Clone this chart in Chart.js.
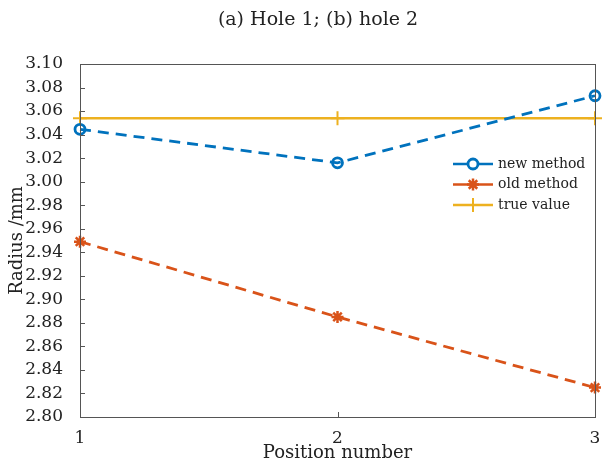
<!DOCTYPE html>
<html>
<head>
<meta charset="UTF-8">
<title>Radius vs position</title>
<script src="https://cdn.jsdelivr.net/npm/chart.js"></script>
<style>
    body { margin: 0; padding: 0; background: #fff; }
    #wrap { width: 606px; height: 464px; }
</style>
</head>
<body>
<div id="wrap"><canvas id="chart" width="606" height="464"></canvas></div>
<script>
    // data
    const positions = [1, 2, 3];
    const newMethod = [3.0445, 3.016, 3.073];
    const oldMethod = [2.949, 2.885, 2.825];
    const trueValue = [3.054, 3.054, 3.054];
    const seriesNames = ["new method", "old method", "true value"];
    const chartTitle = "(a) Hole 1; (b) hole 2";
    const yTitle = "Radius /mm";
    const xTitle = "Position number";

    const FONT = "'DejaVu Serif', serif";
    const AXIS = "#555";

    const toPts = vals => vals.map((v, i) => ({ x: positions[i], y: v }));

    // frame, inward ticks, title and the legend inside the plot
    const extras = {
        id: "extras",
        afterDraw(chart) {
            const ctx = chart.ctx;
            const a = chart.chartArea;
            const xs = chart.scales.x, ys = chart.scales.y;
            ctx.save();
            ctx.strokeStyle = AXIS;
            ctx.lineWidth = 1;
            ctx.strokeRect(a.left + 0.5, a.top + 0.5, a.right - a.left, a.bottom - a.top);
            ctx.beginPath();
            ys.ticks.forEach(t => {
                const y = Math.round(ys.getPixelForValue(t.value)) + 0.5;
                ctx.moveTo(a.left, y);
                ctx.lineTo(a.left + 5, y);
            });
            xs.ticks.forEach(t => {
                const x = Math.round(xs.getPixelForValue(t.value)) + 0.5;
                ctx.moveTo(x, a.bottom);
                ctx.lineTo(x, a.bottom - 5);
            });
            ctx.stroke();

            ctx.fillStyle = "#222";
            ctx.font = "19px " + FONT;
            ctx.textAlign = "center";
            ctx.textBaseline = "middle";
            ctx.fillText(chartTitle, 318, 20);

            // legend
            ctx.font = "14px " + FONT;
            ctx.textAlign = "left";
            chart.data.datasets.forEach((ds, i) => {
                const y = 164 + i * 20.5;
                const x0 = 453, x1 = 493, xm = (x0 + x1) / 2;
                ctx.strokeStyle = ds.borderColor;
                ctx.lineWidth = 2.5;
                ctx.setLineDash([]);
                ctx.beginPath();
                ctx.moveTo(x0, y); ctx.lineTo(x1, y);
                ctx.stroke();
                ctx.lineWidth = ds.pointBorderWidth;
                ctx.beginPath();
                const r = ds.pointRadius;
                if (ds.pointStyle === "circle") {
                    ctx.fillStyle = "#fff";
                    ctx.arc(xm, y, r, 0, Math.PI * 2);
                    ctx.fill();
                } else if (ds.pointStyle === "star") {
                    for (let k = 0; k < 4; k++) {
                        const ang = k * Math.PI / 4;
                        ctx.moveTo(xm - r * Math.cos(ang), y - r * Math.sin(ang));
                        ctx.lineTo(xm + r * Math.cos(ang), y + r * Math.sin(ang));
                    }
                } else {
                    ctx.moveTo(xm - r, y); ctx.lineTo(xm + r, y);
                    ctx.moveTo(xm, y - r); ctx.lineTo(xm, y + r);
                }
                ctx.stroke();
                ctx.fillStyle = "#222";
                ctx.fillText(ds.label, x1 + 5, y);
            });
            ctx.restore();
        }
    };

    new Chart(document.getElementById("chart"), {
        type: "line",
        data: {
            datasets: [
                {
                    label: seriesNames[0], data: toPts(newMethod),
                    borderColor: "#0072BD", borderWidth: 2.8, borderDash: [11, 7],
                    pointStyle: "circle", pointRadius: 5, pointBorderWidth: 2.8,
                    pointBackgroundColor: "rgba(255,255,255,0)", pointBorderColor: "#0072BD"
                },
                {
                    label: seriesNames[1], data: toPts(oldMethod),
                    borderColor: "#D95319", borderWidth: 2.8, borderDash: [11, 7],
                    pointStyle: "star", pointRadius: 6, pointBorderWidth: 2.5,
                    pointBorderColor: "#D95319", pointBackgroundColor: "#D95319"
                },
                {
                    label: seriesNames[2], data: toPts(trueValue),
                    borderColor: "#EDB120", borderWidth: 2.5,
                    pointStyle: "cross", pointRadius: 7, pointBorderWidth: 2,
                    pointBorderColor: "#EDB120"
                }
            ]
        },
        options: {
            responsive: false,
            animation: false,
            clip: false,
            layout: { padding: { top: 64, right: 11, left: 0, bottom: 0 } },
            plugins: { legend: { display: false }, title: { display: false }, tooltip: { enabled: false } },
            scales: {
                x: {
                    type: "linear", min: 1, max: 3,
                    grid: { display: false }, border: { display: false },
                    ticks: { stepSize: 1, color: "#222", font: { family: FONT, size: 17 }, padding: 3 },
                    title: { display: true, text: xTitle, color: "#222", font: { family: FONT, size: 18 }, padding: { top: 0, bottom: 0 } },
                    afterFit: s => { s.height = 47; }
                },
                y: {
                    min: 2.8, max: 3.1,
                    grid: { display: false }, border: { display: false },
                    ticks: {
                        stepSize: 0.02, autoSkip: false, color: "#222", padding: 9,
                        font: { family: FONT, size: 17 },
                        callback: v => v.toFixed(2)
                    },
                    title: { display: true, text: yTitle, color: "#222", font: { family: FONT, size: 18 }, padding: { top: 7, bottom: 0 } },
                    afterFit: s => { s.width = 80; }
                }
            }
        },
        plugins: [extras]
    });
</script>
</body>
</html>
